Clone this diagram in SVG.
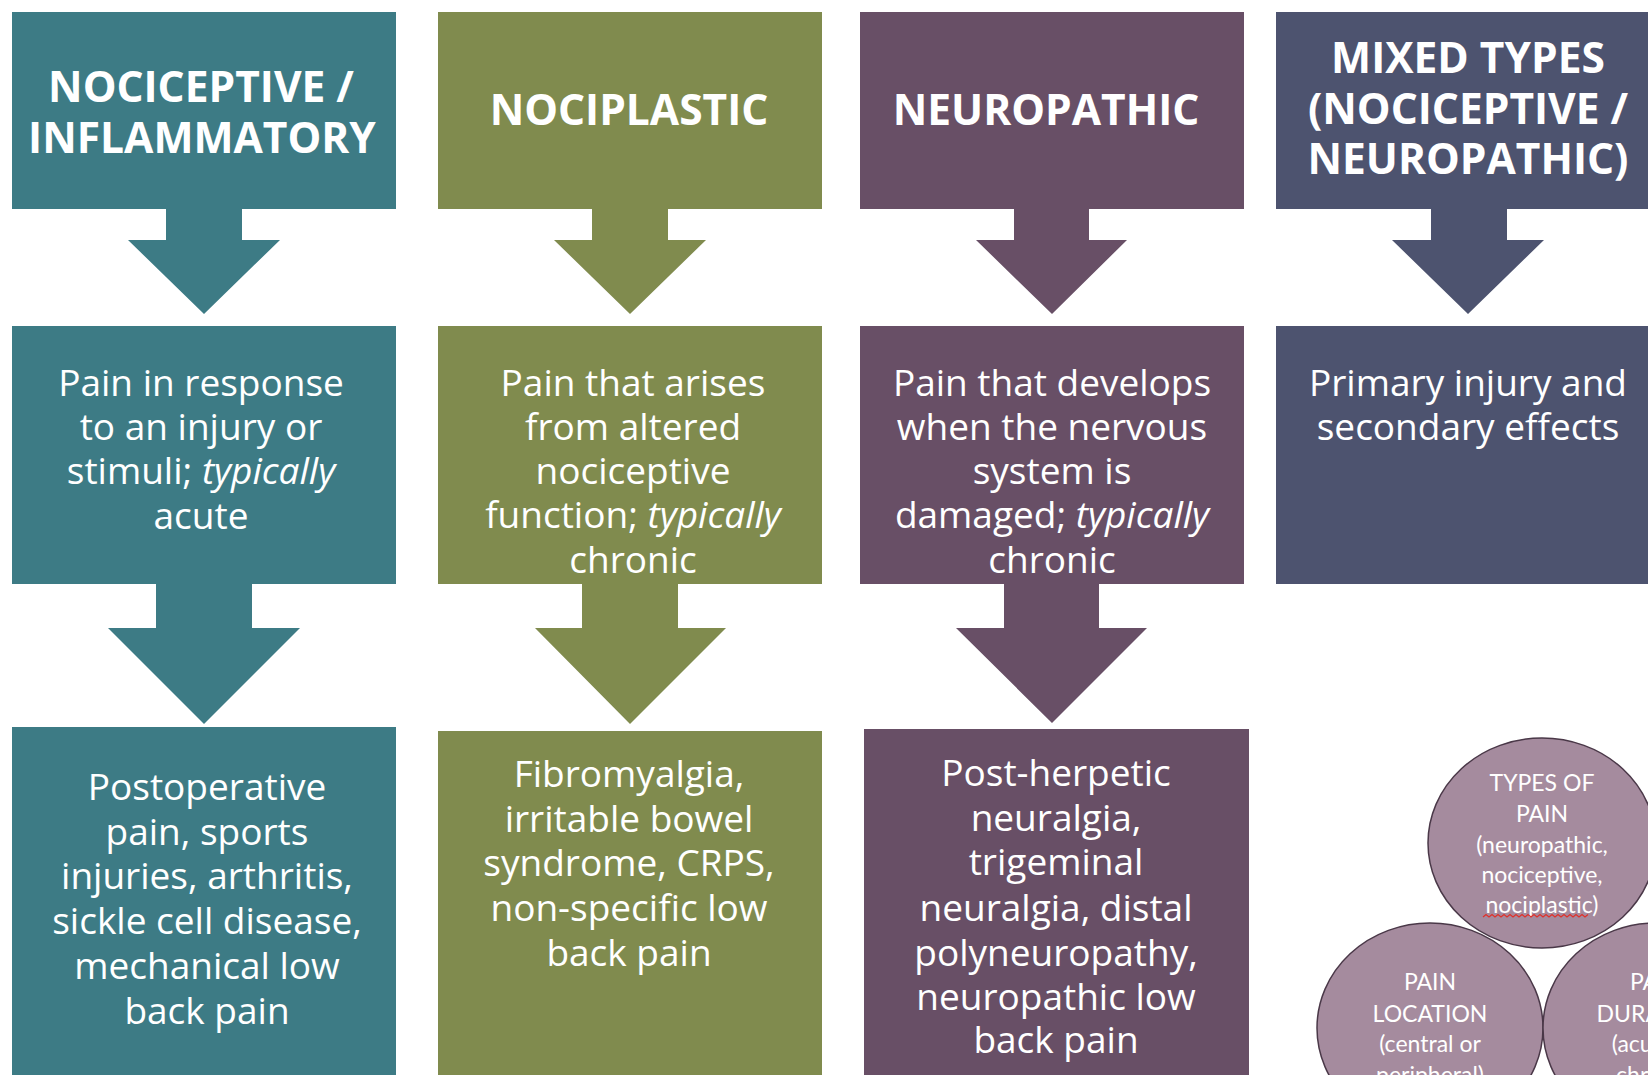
<svg xmlns="http://www.w3.org/2000/svg" width="1648" height="1075" viewBox="0 0 1648 1075">
<style>
.teal{fill:#3d7b85}
.olive{fill:#808b4e}
.plum{fill:#684f66}
.slate{fill:#4d536f}
.title{font-family:"Open Sans","DejaVu Sans",sans-serif;font-weight:700;font-size:42.5px;fill:#fff;text-anchor:middle}
.body{font-family:"Open Sans","DejaVu Sans",sans-serif;font-size:37px;fill:#fff;text-anchor:middle}
.it{font-style:italic}
.circ{fill:#a58b9e;stroke:#4a3848;stroke-width:1.5}
.ctext{font-family:Lato,"Open Sans",sans-serif;font-size:23px;fill:#fff;text-anchor:middle}
</style>
<rect width="1648" height="1075" fill="#fff"/>
<g id="connectors">
<polygon class="teal" points="166,208 242,208 242,240 280,240 204,314 128,240 166,240"/>
<polygon class="olive" points="592,208 668,208 668,240 706,240 630,314 554,240 592,240"/>
<polygon class="plum" points="1014,208 1089,208 1089,240 1127,240 1052,314 976,240 1014,240"/>
<polygon class="slate" points="1431,208 1507,208 1507,240 1544,240 1468,314 1392,240 1431,240"/>
<polygon class="teal" points="156,583 252,583 252,628 300,628 204,724 108,628 156,628"/>
<polygon class="olive" points="582,583 678,583 678,628 726,628 630,724 535,628 582,628"/>
<polygon class="plum" points="1004,583 1099,583 1099,628 1147,628 1052,723 956,628 1004,628"/>
</g>
<g id="nociceptive-title">
<rect class="teal" x="12" y="12" width="384" height="197"/>
<text class="title" x="201" y="102">NOCICEPTIVE /</text>
<text class="title" x="202" y="153">INFLAMMATORY</text>
</g>
<g id="nociplastic-title">
<rect class="olive" x="438" y="12" width="384" height="197"/>
<text class="title" x="629" y="125">NOCIPLASTIC</text>
</g>
<g id="neuropathic-title">
<rect class="plum" x="860" y="12" width="384" height="197"/>
<text class="title" x="1046" y="125">NEUROPATHIC</text>
</g>
<g id="mixed-title">
<rect class="slate" x="1276" y="12" width="384" height="197"/>
<text class="title" x="1468" y="73">MIXED TYPES</text>
<text class="title" x="1468" y="124">(NOCICEPTIVE /</text>
<text class="title" x="1468" y="174">NEUROPATHIC)</text>
</g>
<g id="nociceptive-def">
<rect class="teal" x="12" y="326" width="384" height="258"/>
<text class="body" x="201" y="396">Pain in response</text>
<text class="body" x="201" y="440">to an injury or</text>
<text class="body" x="201" y="484">stimuli; <tspan class="it">typically</tspan></text>
<text class="body" x="201" y="529">acute</text>
</g>
<g id="nociplastic-def">
<rect class="olive" x="438" y="326" width="384" height="258"/>
<text class="body" x="633" y="396">Pain that arises</text>
<text class="body" x="633" y="440">from altered</text>
<text class="body" x="633" y="484">nociceptive</text>
<text class="body" x="633" y="528">function; <tspan class="it">typically</tspan></text>
<text class="body" x="633" y="573">chronic</text>
</g>
<g id="neuropathic-def">
<rect class="plum" x="860" y="326" width="384" height="258"/>
<text class="body" x="1052" y="396">Pain that develops</text>
<text class="body" x="1052" y="440">when the nervous</text>
<text class="body" x="1052" y="484">system is</text>
<text class="body" x="1052" y="528">damaged; <tspan class="it">typically</tspan></text>
<text class="body" x="1052" y="573">chronic</text>
</g>
<g id="mixed-def">
<rect class="slate" x="1276" y="326" width="384" height="258"/>
<text class="body" x="1468" y="396">Primary injury and</text>
<text class="body" x="1468" y="440">secondary effects</text>
</g>
<g id="nociceptive-examples">
<rect class="teal" x="12" y="727" width="384" height="360"/>
<text class="body" x="207" y="800">Postoperative</text>
<text class="body" x="207" y="845">pain, sports</text>
<text class="body" x="207" y="889">injuries, arthritis,</text>
<text class="body" x="207" y="934">sickle cell disease,</text>
<text class="body" x="207" y="979">mechanical low</text>
<text class="body" x="207" y="1024">back pain</text>
</g>
<g id="nociplastic-examples">
<rect class="olive" x="438" y="731" width="384" height="360"/>
<text class="body" x="629" y="787">Fibromyalgia,</text>
<text class="body" x="629" y="832">irritable bowel</text>
<text class="body" x="629" y="876">syndrome, CRPS,</text>
<text class="body" x="629" y="921">non-specific low</text>
<text class="body" x="629" y="966">back pain</text>
</g>
<g id="neuropathic-examples">
<rect class="plum" x="864" y="729" width="385" height="360"/>
<text class="body" x="1056" y="786">Post-herpetic</text>
<text class="body" x="1056" y="831">neuralgia,</text>
<text class="body" x="1056" y="875">trigeminal</text>
<text class="body" x="1056" y="921">neuralgia, distal</text>
<text class="body" x="1056" y="966">polyneuropathy,</text>
<text class="body" x="1056" y="1010">neuropathic low</text>
<text class="body" x="1056" y="1053">back pain</text>
</g>
<g id="types-circle">
<ellipse class="circ" cx="1542" cy="843" rx="114" ry="105"/>
<text class="ctext" x="1542" y="791">TYPES OF</text>
<text class="ctext" x="1542" y="822">PAIN</text>
<text class="ctext" x="1542" y="853">(neuropathic,</text>
<text class="ctext" x="1542" y="883">nociceptive,</text>
<text class="ctext" x="1542" y="913">nociplastic)</text>
<path d="M1483,917 l3,-2.5 l3,2.5 l3,-2.5 l3,2.5 l3,-2.5 l3,2.5 l3,-2.5 l3,2.5 l3,-2.5 l3,2.5 l3,-2.5 l3,2.5 l3,-2.5 l3,2.5 l3,-2.5 l3,2.5 l3,-2.5 l3,2.5 l3,-2.5 l3,2.5 l3,-2.5 l3,2.5 l3,-2.5 l3,2.5 l3,-2.5 l3,2.5 l3,-2.5 l3,2.5 l3,-2.5 l3,2.5 l3,-2.5 l3,2.5 l3,-2.5 l3,2.5 l3,-2.5" fill="none" stroke="#e0302a" stroke-width="1.2"/>
</g>
<g id="location-circle">
<ellipse class="circ" cx="1430" cy="1028" rx="113" ry="105"/>
<text class="ctext" x="1430" y="990">PAIN</text>
<text class="ctext" x="1430" y="1022">LOCATION</text>
<text class="ctext" x="1430" y="1052">(central or</text>
<text class="ctext" x="1430" y="1083">peripheral)</text>
</g>
<g id="duration-circle">
<ellipse class="circ" cx="1656" cy="1028" rx="113" ry="105"/>
<text class="ctext" x="1656" y="990">PAIN</text>
<text class="ctext" x="1656" y="1022">DURATION</text>
<text class="ctext" x="1656" y="1052">(acute or</text>
<text class="ctext" x="1656" y="1083">chronic)</text>
</g>
</svg>
